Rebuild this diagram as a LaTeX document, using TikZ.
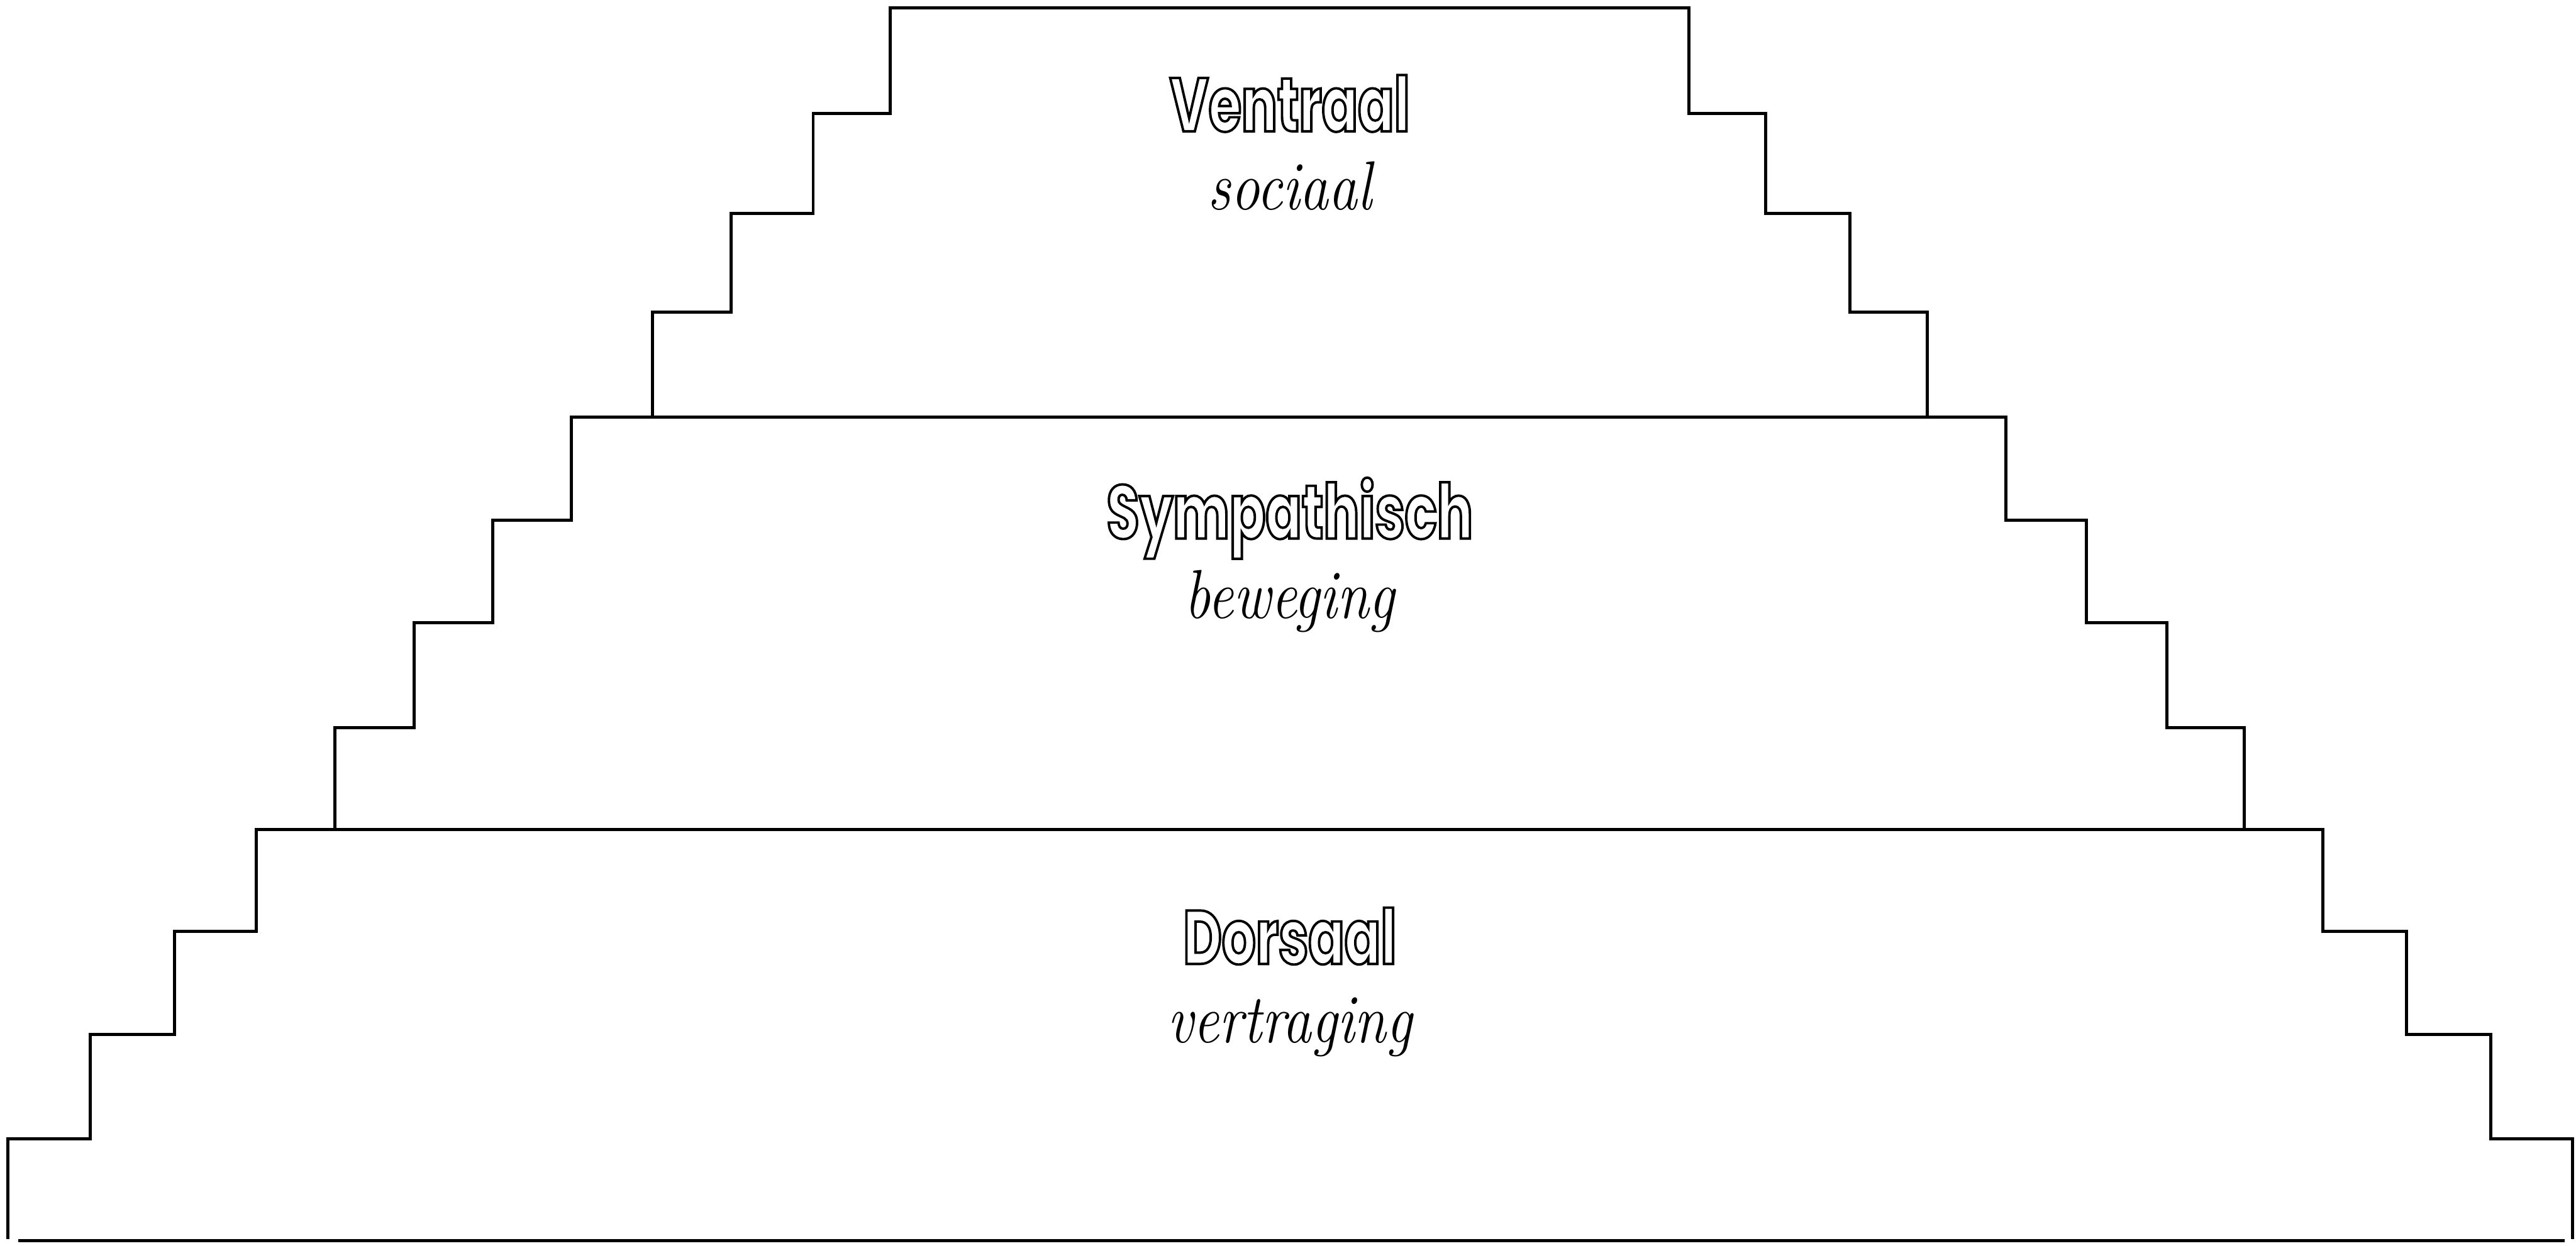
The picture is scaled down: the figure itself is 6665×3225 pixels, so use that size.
\documentclass[tikz,border=0pt]{standalone}
\usepackage{fontspec}
\newfontfamily\titlefont{Poppins}[FakeStretch=0.7]
\newfontfamily\handfont{Latin Modern Roman}[FakeStretch=0.83]
% hollow letters: stroke the glyph outlines only
\newcommand\hollow[1]{\special{pdf:literal direct 1 Tr 1.8 w}#1\special{pdf:literal direct 0 Tr}}
\tikzset{
  wall/.style={line width=0.8mm},
  tiername/.style={font=\titlefont\bfseries\fontsize{56}{60}\selectfont,anchor=base,inner sep=0pt},
  tiernote/.style={font=\handfont\itshape\fontsize{51}{56}\selectfont,anchor=base,inner sep=0pt}
}
\begin{document}
\begin{tikzpicture}[x=0.01cm,y=-0.01cm]
\useasboundingbox (0,0) rectangle (6665,3225);
% top tier
\draw[wall] (1688,1080) |- (1892,808) |- (2104,553) |- (2304,293) |- (4370,21)
  |- (4569,293) |- (4786,553) |- (4986,808) -- (4986,1080);
% middle tier
\draw[wall] (867,2147) |- (1071,1883) |- (1275,1611) |- (1479,1347) |- (5190,1080)
  |- (5398,1347) |- (5607,1611) |- (5806,1883) -- (5806,2147);
% bottom tier
\draw[wall] (21,3207) |- (234,2947) |- (451,2678) |- (663,2410) |- (6010,2147)
  |- (6227,2410) |- (6444,2678) |- (6656,2947) -- (6656,3207);
\draw[wall] (48,3211) -- (6635,3211);
% labels
\node[tiername] (ventraal) at (3337,340) {\hollow{Ventraal}};
\node[tiernote] (sociaal) at (3337,542) {sociaal};
\node[tiername] (sympathisch) at (3337,1394) {\hollow{Sympathisch}};
\node[tiernote] (beweging) at (3337,1600) {beweging};
\node[tiername] (dorsaal) at (3337,2495) {\hollow{Dorsaal}};
\node[tiernote] (vertraging) at (3337,2698) {vertraging};
\end{tikzpicture}
\end{document}
